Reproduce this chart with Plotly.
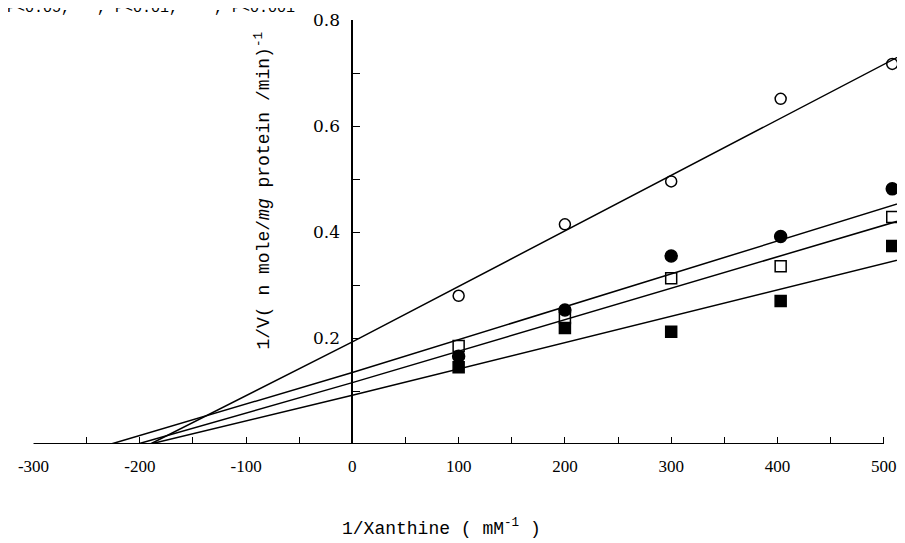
import plotly.graph_objects as go

# ---- data ----
x_conc = [100, 200, 300, 403, 508]            # 1/Xanthine (mM^-1)
open_circle = [0.280, 0.415, 0.496, 0.652, 0.718]
filled_circle = [0.166, 0.253, 0.355, 0.392, 0.482]
open_square = [0.185, 0.238, 0.313, 0.336, 0.429]
filled_square = [0.145, 0.219, 0.212, 0.270, 0.374]

# fitted lines: x-intercept, y-intercept, value at right end
line_x_intercepts = [-190, -227, -202, -190]
line_y_intercepts = [0.193, 0.135, 0.116, 0.092]
line_end_x = 520
line_end_values = [0.738, 0.458, 0.425, 0.351]

x_tick_vals = [-300, -200, -100, 0, 100, 200, 300, 400, 500]
x_tick_text = ["-300", "-200", "-100", "0", "100", "200", "300", "400", "500"]
y_tick_vals = [0.2, 0.4, 0.6, 0.8]
y_tick_text = ["0.2", "0.4", "0.6", "0.8"]

serif = "Liberation Serif"
mono = "Liberation Mono"

fig = go.Figure()

for xi, yi, ye in zip(line_x_intercepts, line_y_intercepts, line_end_values):
    fig.add_trace(go.Scatter(
        x=[xi, 0, line_end_x], y=[0, yi, ye], mode="lines",
        line=dict(color="black", width=1.5), showlegend=False, hoverinfo="skip"))

series = [
    (open_circle, "circle-open", 11),
    (filled_circle, "circle", 12),
    (open_square, "square-open", 11),
    (filled_square, "square", 11),
]
for vals, sym, sz in series:
    fig.add_trace(go.Scatter(
        x=x_conc, y=vals, mode="markers",
        marker=dict(symbol=sym, size=sz, color="black",
                    line=dict(color="black", width=1.5)),
        showlegend=False, cliponaxis=False))

# x axis line from -300 to 500
fig.add_shape(type="line", xref="x", yref="y", x0=-300, x1=500, y0=0, y1=0,
              line=dict(color="black", width=2))

xmin, xmax = -300.5, 520
fig.update_layout(
    width=897, height=535,
    margin=dict(l=25, r=0, t=12, b=99, autoexpand=False),
    paper_bgcolor="white", plot_bgcolor="white",
    xaxis=dict(range=[xmin, xmax], showgrid=False, zeroline=False, showline=False,
               tickmode="array", tickvals=x_tick_vals, ticktext=x_tick_text,
               ticks="inside", ticklen=7, tickwidth=1.3, tickcolor="black",
               minor=dict(tickmode="linear", tick0=0, dtick=50, ticks="inside",
                          ticklen=7, tickwidth=1.3, tickcolor="black"),
               ticklabelstandoff=10,
               tickfont=dict(family=serif, size=17, color="black")),
    yaxis=dict(range=[0, 0.801], showgrid=False, zeroline=False,
               showline=True, linecolor="black", linewidth=2,
               anchor="free", position=(0 - xmin) / (xmax - xmin),
               tickmode="array", tickvals=y_tick_vals, ticktext=y_tick_text,
               ticks="inside", ticklen=7, tickwidth=1.3, tickcolor="black",
               minor=dict(tickmode="linear", tick0=0, dtick=0.1, ticks="inside",
                          ticklen=7, tickwidth=1.3, tickcolor="black"),
               ticklabelstandoff=8,
               tickfont=dict(family="DejaVu Serif", size=17, color="black")),
)

fig.add_annotation(
    xref="x", yref="y", x=-84, y=0.479, textangle=-90, showarrow=False,
    xanchor="center", yanchor="middle",
    text="1/V( n mole/<i>mg</i> protein /min)<sup>-1</sup>",
    font=dict(family=mono, size=18, color="black"))

fig.add_annotation(
    xref="x", yref="paper", x=84, y=-0.196, showarrow=False,
    xanchor="center", yanchor="middle",
    text="1/Xanthine ( mM<sup>-1</sup> )",
    font=dict(family=mono, size=18, color="black"))

fig.add_annotation(
    xref="x", yref="paper", x=-52, y=1.003, xanchor="right", yanchor="bottom",
    showarrow=False, text="*, P<0.05, **, P<0.01, ***, P<0.001",
    font=dict(family=mono, size=15, color="black"))

fig.write_html("out.html")
